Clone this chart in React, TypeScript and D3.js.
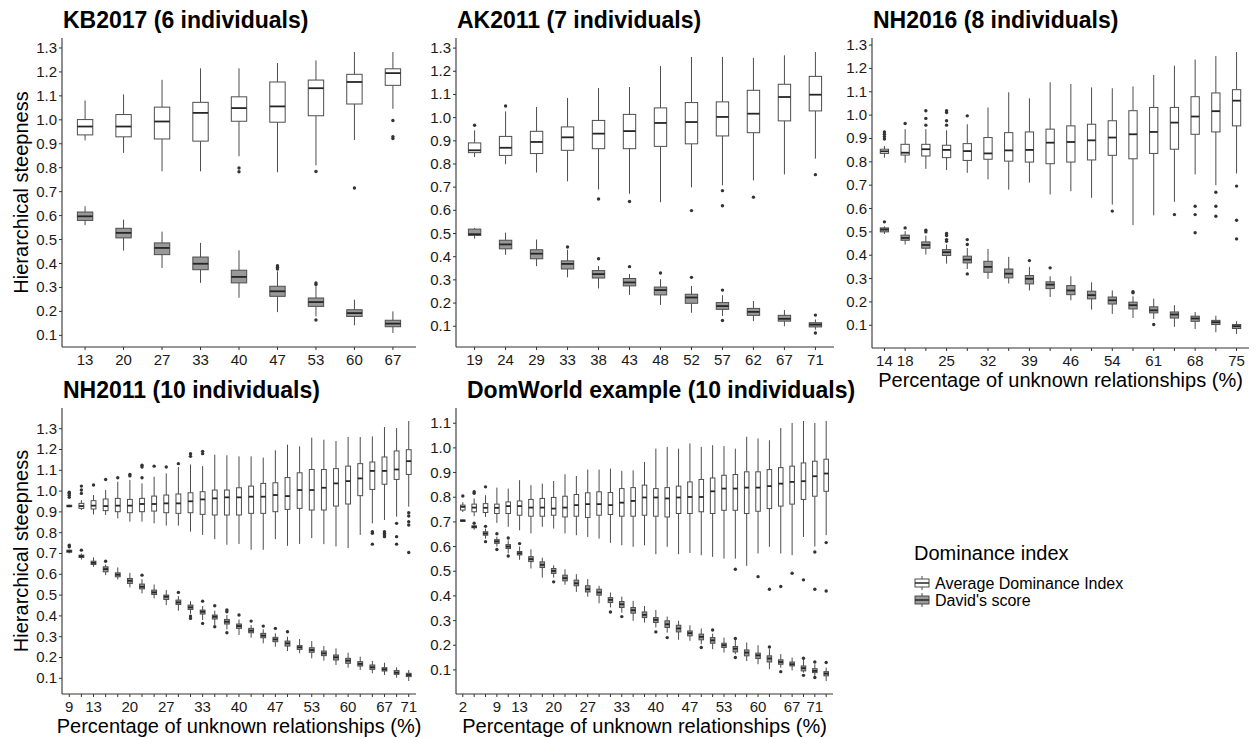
import * as d3 from "d3";

// [lo whisker, q1, median, q3, hi whisker]
type Box = [number, number, number, number, number];

const kbPct = ["13", "20", "27", "33", "40", "47", "53", "60", "67"];
const kbTicks = kbPct;
const kbAdi: Box[] = [
  [0.914, 0.937, 0.972, 1.001, 1.081],
  [0.862, 0.929, 0.972, 1.022, 1.106],
  [0.785, 0.92, 0.993, 1.053, 1.167],
  [0.785, 0.911, 1.029, 1.073, 1.215],
  [0.848, 0.994, 1.049, 1.096, 1.215],
  [0.781, 0.99, 1.056, 1.158, 1.237],
  [0.81, 1.017, 1.132, 1.166, 1.248],
  [0.916, 1.066, 1.158, 1.19, 1.283],
  [1.046, 1.144, 1.195, 1.213, 1.283],
];
const kbAdiOut = [[], [], [], [], [0.799, 0.783], [], [0.784], [0.715], [0.997, 0.93, 0.922]];
const kbDs: Box[] = [
  [0.56, 0.58, 0.597, 0.615, 0.639],
  [0.454, 0.507, 0.528, 0.547, 0.583],
  [0.381, 0.437, 0.465, 0.486, 0.533],
  [0.319, 0.374, 0.399, 0.427, 0.486],
  [0.257, 0.319, 0.344, 0.372, 0.455],
  [0.197, 0.263, 0.284, 0.305, 0.367],
  [0.179, 0.221, 0.239, 0.256, 0.305],
  [0.142, 0.179, 0.193, 0.207, 0.249],
  [0.11, 0.136, 0.149, 0.163, 0.2],
];
const kbDsOut = [[], [], [], [], [], [0.391, 0.384, 0.377], [0.319, 0.312, 0.164], [], []];

const akPct = ["19", "24", "29", "33", "38", "43", "48", "52", "57", "62", "67", "71"];
const akTicks = akPct;
const akAdi: Box[] = [
  [0.83, 0.849, 0.859, 0.891, 0.945],
  [0.799, 0.837, 0.87, 0.919, 1.027],
  [0.763, 0.845, 0.895, 0.941, 1.046],
  [0.725, 0.859, 0.915, 0.96, 1.085],
  [0.69, 0.866, 0.931, 0.988, 1.128],
  [0.672, 0.866, 0.942, 1.014, 1.132],
  [0.635, 0.876, 0.977, 1.042, 1.223],
  [0.699, 0.887, 0.981, 1.065, 1.262],
  [0.708, 0.921, 1.003, 1.068, 1.262],
  [0.729, 0.935, 1.017, 1.118, 1.258],
  [0.755, 0.986, 1.089, 1.144, 1.269],
  [0.823, 1.029, 1.099, 1.178, 1.283],
];
const akAdiOut = [[0.967], [1.05], [], [], [0.649], [0.638], [], [0.599], [0.685, 0.62], [0.657], [], [0.754]];
const akDs: Box[] = [
  [0.478, 0.492, 0.497, 0.519, 0.524],
  [0.408, 0.434, 0.453, 0.471, 0.504],
  [0.359, 0.391, 0.413, 0.43, 0.474],
  [0.311, 0.347, 0.369, 0.382, 0.43],
  [0.263, 0.308, 0.325, 0.34, 0.36],
  [0.235, 0.274, 0.289, 0.306, 0.325],
  [0.192, 0.235, 0.256, 0.269, 0.303],
  [0.158, 0.199, 0.224, 0.238, 0.274],
  [0.144, 0.173, 0.187, 0.202, 0.234],
  [0.122, 0.147, 0.162, 0.177, 0.209],
  [0.1, 0.122, 0.132, 0.147, 0.17],
  [0.085, 0.097, 0.107, 0.115, 0.129],
];
const akDsOut = [[], [], [], [0.442], [0.391], [0.357], [0.33], [0.311], [0.256, 0.125], [], [], [0.148, 0.071]];

const nh16Pct = ["14", "18", "21", "25", "29", "32", "36", "39", "43", "46", "50", "54", "57", "61", "64", "68", "71", "75"];
const nh16Ticks = ["14", "18", "25", "32", "39", "46", "54", "61", "68", "75"];
const nh16Adi: Box[] = [
  [0.818, 0.836, 0.845, 0.854, 0.868],
  [0.796, 0.829, 0.839, 0.875, 0.94],
  [0.77, 0.825, 0.854, 0.875, 0.94],
  [0.765, 0.818, 0.851, 0.871, 0.935],
  [0.753, 0.806, 0.846, 0.878, 0.961],
  [0.725, 0.811, 0.836, 0.904, 1.033],
  [0.681, 0.803, 0.849, 0.925, 1.098],
  [0.711, 0.799, 0.851, 0.928, 1.072],
  [0.66, 0.792, 0.882, 0.94, 1.141],
  [0.674, 0.799, 0.885, 0.954, 1.133],
  [0.646, 0.808, 0.892, 0.961, 1.119],
  [0.617, 0.828, 0.904, 0.976, 1.115],
  [0.529, 0.813, 0.918, 1.019, 1.123],
  [0.571, 0.836, 0.928, 1.033, 1.172],
  [0.629, 0.854, 0.968, 1.033, 1.212],
  [0.746, 0.918, 0.994, 1.079, 1.238],
  [0.7, 0.928, 1.017, 1.095, 1.253],
  [0.75, 0.954, 1.062, 1.109, 1.27],
];
const nh16AdiOut = [
  [0.928, 0.918, 0.908, 0.898], [0.964], [1.019, 0.986, 0.957], [1.019, 1.011, 0.976, 0.957], [0.997],
  [], [], [], [], [], [], [0.589], [], [], [0.574], [0.61, 0.574, 0.496], [0.67, 0.61, 0.567], [0.696, 0.55, 0.47],
];
const nh16Ds: Box[] = [
  [0.491, 0.5, 0.51, 0.517, 0.524],
  [0.446, 0.464, 0.474, 0.486, 0.503],
  [0.403, 0.43, 0.444, 0.457, 0.484],
  [0.364, 0.399, 0.413, 0.424, 0.446],
  [0.341, 0.367, 0.381, 0.396, 0.431],
  [0.299, 0.327, 0.35, 0.374, 0.427],
  [0.279, 0.303, 0.321, 0.341, 0.393],
  [0.249, 0.277, 0.299, 0.313, 0.35],
  [0.221, 0.257, 0.274, 0.286, 0.31],
  [0.207, 0.231, 0.249, 0.27, 0.31],
  [0.167, 0.213, 0.229, 0.246, 0.284],
  [0.149, 0.191, 0.207, 0.221, 0.249],
  [0.131, 0.17, 0.186, 0.199, 0.224],
  [0.127, 0.153, 0.164, 0.179, 0.214],
  [0.093, 0.131, 0.146, 0.157, 0.186],
  [0.084, 0.117, 0.129, 0.139, 0.157],
  [0.07, 0.103, 0.113, 0.121, 0.141],
  [0.063, 0.086, 0.096, 0.103, 0.117],
];
const nh16DsOut = [
  [0.543], [0.517], [0.507, 0.5], [0.493, 0.484, 0.467, 0.46], [0.467, 0.446, 0.32],
  [], [], [0.377], [0.346], [], [], [], [0.244, 0.239], [0.103], [], [], [], [],
];

const nh11Pct = ["9", "11", "13", "16", "18", "20", "22", "24", "27", "29", "31", "33", "36", "38", "40",
  "42", "44", "47", "49", "51", "53", "56", "58", "60", "62", "64", "67", "69", "71"];
const nh11Ticks = ["9", "13", "20", "27", "33", "40", "47", "53", "60", "67", "71"];
const nh11Adi: Box[] = [
  [0.922, 0.925, 0.928, 0.932, 0.935],
  [0.909, 0.917, 0.928, 0.941, 0.957],
  [0.888, 0.914, 0.93, 0.954, 0.981],
  [0.885, 0.906, 0.928, 0.962, 1.005],
  [0.869, 0.901, 0.93, 0.965, 1.045],
  [0.853, 0.896, 0.93, 0.96, 1.053],
  [0.853, 0.901, 0.938, 0.965, 1.037],
  [0.845, 0.904, 0.938, 0.976, 1.069],
  [0.834, 0.896, 0.941, 0.981, 1.085],
  [0.834, 0.893, 0.941, 0.986, 1.116],
  [0.805, 0.896, 0.951, 0.992, 1.128],
  [0.789, 0.888, 0.96, 0.997, 1.12],
  [0.769, 0.885, 0.965, 1.005, 1.175],
  [0.742, 0.885, 0.97, 1.005, 1.172],
  [0.746, 0.885, 0.97, 1.016, 1.167],
  [0.718, 0.893, 0.973, 1.024, 1.167],
  [0.718, 0.893, 0.973, 1.037, 1.161],
  [0.769, 0.901, 0.981, 1.04, 1.196],
  [0.737, 0.912, 0.976, 1.065, 1.223],
  [0.746, 0.917, 1.005, 1.088, 1.215],
  [0.774, 0.909, 1.005, 1.104, 1.257],
  [0.745, 0.909, 1.016, 1.104, 1.247],
  [0.734, 0.928, 1.037, 1.108, 1.241],
  [0.726, 0.938, 1.048, 1.12, 1.26],
  [0.789, 0.978, 1.061, 1.132, 1.26],
  [0.845, 1.008, 1.097, 1.14, 1.263],
  [0.861, 1.033, 1.097, 1.164, 1.308],
  [0.877, 1.056, 1.104, 1.193, 1.303],
  [0.925, 1.08, 1.144, 1.199, 1.337],
];
const nh11AdiOut = [
  [0.97, 0.98, 0.99, 0.995], [1.024, 1.005, 0.989], [1.029], [1.056], [1.064], [1.08, 1.073],
  [1.124, 1.116, 1.064], [1.12], [1.116], [1.132], [1.18, 1.167], [1.191, 1.18],
  [], [], [], [], [], [], [], [], [], [], [], [], [],
  [0.805, 0.797, 0.745], [0.805, 0.797, 0.789, 0.781], [0.845, 0.781, 0.745], [0.896, 0.88, 0.853, 0.837, 0.705],
];
const nh11Ds: Box[] = [
  [0.7, 0.706, 0.711, 0.716, 0.719],
  [0.671, 0.681, 0.687, 0.692, 0.7],
  [0.636, 0.647, 0.655, 0.663, 0.681],
  [0.596, 0.612, 0.625, 0.636, 0.647],
  [0.575, 0.588, 0.598, 0.607, 0.633],
  [0.537, 0.556, 0.569, 0.58, 0.607],
  [0.508, 0.53, 0.54, 0.553, 0.577],
  [0.484, 0.503, 0.513, 0.524, 0.551],
  [0.452, 0.479, 0.492, 0.5, 0.524],
  [0.425, 0.455, 0.465, 0.476, 0.495],
  [0.41, 0.431, 0.441, 0.452, 0.471],
  [0.38, 0.409, 0.42, 0.428, 0.447],
  [0.356, 0.385, 0.396, 0.404, 0.425],
  [0.335, 0.361, 0.372, 0.383, 0.404],
  [0.308, 0.34, 0.351, 0.361, 0.383],
  [0.295, 0.319, 0.329, 0.34, 0.356],
  [0.268, 0.295, 0.305, 0.316, 0.335],
  [0.252, 0.276, 0.287, 0.297, 0.316],
  [0.231, 0.255, 0.268, 0.279, 0.3],
  [0.22, 0.239, 0.249, 0.257, 0.289],
  [0.196, 0.225, 0.236, 0.247, 0.279],
  [0.185, 0.209, 0.22, 0.231, 0.255],
  [0.164, 0.188, 0.201, 0.212, 0.244],
  [0.151, 0.172, 0.185, 0.196, 0.223],
  [0.14, 0.159, 0.169, 0.18, 0.204],
  [0.124, 0.143, 0.153, 0.164, 0.183],
  [0.116, 0.135, 0.143, 0.151, 0.175],
  [0.103, 0.119, 0.127, 0.137, 0.153],
  [0.087, 0.108, 0.116, 0.124, 0.14],
];
const nh11DsOut = [
  [0.74, 0.732], [0.716], [], [0.663], [], [], [0.596], [], [], [0.513], [0.399, 0.388], [0.471, 0.364],
  [0.449, 0.348], [0.428, 0.42, 0.319], [0.404], [0.375], [0.351], [0.34], [0.324],
  [], [], [], [], [], [], [], [], [], [],
];

const dwPct = ["2", "4", "7", "9", "11", "13", "16", "18", "20", "22", "24", "27", "29", "31", "33", "36",
  "38", "40", "42", "44", "47", "49", "51", "53", "56", "58", "60", "62", "64", "67", "69", "71", "73"];
const dwTicks = ["2", "9", "13", "20", "27", "33", "40", "47", "53", "60", "67", "71"];
const dwAdi: Box[] = [
  [0.74, 0.748, 0.761, 0.768, 0.78],
  [0.723, 0.741, 0.758, 0.772, 0.795],
  [0.72, 0.738, 0.757, 0.774, 0.808],
  [0.696, 0.734, 0.757, 0.772, 0.839],
  [0.68, 0.734, 0.764, 0.781, 0.835],
  [0.666, 0.727, 0.764, 0.785, 0.869],
  [0.653, 0.723, 0.758, 0.791, 0.849],
  [0.68, 0.723, 0.758, 0.795, 0.855],
  [0.673, 0.727, 0.754, 0.799, 0.866],
  [0.653, 0.72, 0.758, 0.804, 0.893],
  [0.646, 0.723, 0.768, 0.811, 0.886],
  [0.639, 0.718, 0.772, 0.818, 0.912],
  [0.632, 0.727, 0.772, 0.822, 0.912],
  [0.615, 0.73, 0.768, 0.819, 0.916],
  [0.605, 0.723, 0.778, 0.835, 0.907],
  [0.599, 0.723, 0.785, 0.839, 0.909],
  [0.605, 0.727, 0.799, 0.849, 0.943],
  [0.569, 0.723, 0.799, 0.835, 0.997],
  [0.599, 0.72, 0.795, 0.839, 1.004],
  [0.569, 0.734, 0.799, 0.845, 0.997],
  [0.574, 0.734, 0.801, 0.862, 1.018],
  [0.565, 0.741, 0.801, 0.872, 1.004],
  [0.558, 0.734, 0.824, 0.878, 1.011],
  [0.551, 0.747, 0.835, 0.889, 1.007],
  [0.551, 0.747, 0.835, 0.892, 0.997],
  [0.522, 0.734, 0.839, 0.903, 1.045],
  [0.572, 0.743, 0.839, 0.903, 1.038],
  [0.599, 0.754, 0.845, 0.912, 1.031],
  [0.572, 0.764, 0.855, 0.92, 1.081],
  [0.565, 0.772, 0.862, 0.926, 1.101],
  [0.639, 0.791, 0.865, 0.939, 1.109],
  [0.6, 0.804, 0.885, 0.946, 1.101],
  [0.646, 0.824, 0.896, 0.954, 1.109],
];
const dwAdiOut = [
  [0.805], [0.822, 0.816], [0.842],
  [], [], [], [], [], [], [], [], [], [], [], [], [], [], [], [], [], [], [], [], [],
  [0.508], [], [0.478], [0.427], [0.438], [0.492], [0.465], [0.578, 0.427], [0.616, 0.42],
];
const dwDs: Box[] = [
  [0.7, 0.702, 0.705, 0.708, 0.71],
  [0.668, 0.676, 0.68, 0.684, 0.69],
  [0.632, 0.646, 0.653, 0.66, 0.673],
  [0.6, 0.613, 0.621, 0.628, 0.64],
  [0.572, 0.592, 0.6, 0.608, 0.625],
  [0.546, 0.566, 0.573, 0.58, 0.6],
  [0.511, 0.539, 0.549, 0.559, 0.589],
  [0.474, 0.515, 0.526, 0.538, 0.555],
  [0.474, 0.491, 0.501, 0.511, 0.524],
  [0.445, 0.461, 0.472, 0.484, 0.508],
  [0.416, 0.441, 0.451, 0.464, 0.488],
  [0.397, 0.416, 0.427, 0.441, 0.468],
  [0.37, 0.403, 0.414, 0.427, 0.441],
  [0.353, 0.373, 0.384, 0.393, 0.414],
  [0.332, 0.353, 0.366, 0.377, 0.397],
  [0.299, 0.33, 0.342, 0.353, 0.38],
  [0.292, 0.312, 0.323, 0.335, 0.359],
  [0.272, 0.292, 0.303, 0.312, 0.343],
  [0.251, 0.272, 0.285, 0.299, 0.316],
  [0.222, 0.254, 0.268, 0.281, 0.299],
  [0.218, 0.238, 0.249, 0.258, 0.281],
  [0.204, 0.222, 0.234, 0.245, 0.268],
  [0.184, 0.208, 0.22, 0.231, 0.247],
  [0.17, 0.191, 0.2, 0.208, 0.231],
  [0.164, 0.173, 0.186, 0.195, 0.224],
  [0.136, 0.157, 0.17, 0.181, 0.211],
  [0.123, 0.146, 0.159, 0.168, 0.2],
  [0.103, 0.132, 0.146, 0.157, 0.184],
  [0.109, 0.123, 0.132, 0.141, 0.164],
  [0.098, 0.116, 0.123, 0.132, 0.15],
  [0.089, 0.096, 0.107, 0.116, 0.14],
  [0.076, 0.089, 0.096, 0.105, 0.123],
  [0.055, 0.076, 0.085, 0.093, 0.109],
];
const dwDsOut = [
  [], [0.695], [0.682, 0.62], [0.652, 0.588], [0.635, 0.562], [0.612], [], [], [0.457], [], [], [], [],
  [0.335], [0.316], [], [], [0.254], [0.231], [], [], [0.191], [0.262], [], [0.227, 0.15], [], [],
  [0.193], [0.093], [], [0.147, 0.078], [0.132, 0.069], [0.13],
];

const legendLabels = ["Average Dominance Index", "David's score"];

const FONT = "'Liberation Sans', Arial, Helvetica, sans-serif";
const INK = "#333333";
const FILLS = ["#ffffff", "#999999"];

const panels = [
  { title: "KB2017 (6 individuals)", pct: kbPct, ticks: kbTicks, adi: kbAdi, adiOut: kbAdiOut, ds: kbDs, dsOut: kbDsOut,
    frame: { left: 62, right: 416, top: 38, bottom: 347 }, titleX: 63, yTitle: true, xTitle: false },
  { title: "AK2011 (7 individuals)", pct: akPct, ticks: akTicks, adi: akAdi, adiOut: akAdiOut, ds: akDs, dsOut: akDsOut,
    frame: { left: 456, right: 834, top: 38, bottom: 347 }, titleX: 457, yTitle: false, xTitle: false },
  { title: "NH2016 (8 individuals)", pct: nh16Pct, ticks: nh16Ticks, adi: nh16Adi, adiOut: nh16AdiOut, ds: nh16Ds, dsOut: nh16DsOut,
    frame: { left: 872, right: 1249, top: 38, bottom: 348 }, titleX: 873, yTitle: false, xTitle: true },
  { title: "NH2011 (10 individuals)", pct: nh11Pct, ticks: nh11Ticks, adi: nh11Adi, adiOut: nh11AdiOut, ds: nh11Ds, dsOut: nh11DsOut,
    frame: { left: 62, right: 416, top: 408, bottom: 694 }, titleX: 63, yTitle: true, xTitle: true },
  { title: "DomWorld example (10 individuals)", pct: dwPct, ticks: dwTicks, adi: dwAdi, adiOut: dwAdiOut, ds: dwDs, dsOut: dwDsOut,
    frame: { left: 456, right: 833, top: 408, bottom: 694 }, titleX: 467, yTitle: false, xTitle: true },
];

function BoxSeries({ boxes, outs, x, y, pct, w, fill }) {
  return (
    <g>
      {boxes.map((b: Box, i: number) => {
        const cx = x(pct[i]);
        const [lo, q1, med, q3, hi] = b;
        return (
          <g key={i}>
            <line x1={cx} x2={cx} y1={y(hi)} y2={y(q3)} stroke="#4d4d4d" strokeWidth={1} />
            <line x1={cx} x2={cx} y1={y(q1)} y2={y(lo)} stroke="#4d4d4d" strokeWidth={1} />
            <rect x={cx - w / 2} y={y(q3)} width={w} height={Math.max(1, y(q1) - y(q3))}
              fill={fill} stroke="#4d4d4d" strokeWidth={1} />
            <line x1={cx - w / 2} x2={cx + w / 2} y1={y(med)} y2={y(med)} stroke="#262626" strokeWidth={1.8} />
            {outs[i].map((o: number, j: number) => (
              <circle key={j} cx={cx} cy={y(o)} r={1.7} fill={INK} />
            ))}
          </g>
        );
      })}
    </g>
  );
}

function Panel({ p }) {
  const { left, right, top, bottom } = p.frame;
  const x = d3.scalePoint<string>().domain(p.pct).range([left, right]).padding(0.6);
  const all = [...p.adi.flat(), ...p.ds.flat(), ...p.adiOut.flat(), ...p.dsOut.flat()];
  const [mn, mx] = d3.extent(all) as [number, number];
  const pad = (mx - mn) * 0.05;
  const y = d3.scaleLinear().domain([mn - pad, mx + pad]).range([bottom, top]);
  const yTicks = y.ticks(12);
  const fmt = d3.format(".1f");
  const w = x.step() * 0.4;
  return (
    <g fontFamily={FONT}>
      <text x={p.titleX} y={top - 10} fontSize={23} fontWeight="bold" fill="#000">{p.title}</text>
      <BoxSeries boxes={p.adi} outs={p.adiOut} x={x} y={y} pct={p.pct} w={w} fill={FILLS[0]} />
      <BoxSeries boxes={p.ds} outs={p.dsOut} x={x} y={y} pct={p.pct} w={w} fill={FILLS[1]} />
      <line x1={left} x2={left} y1={top} y2={bottom} stroke={INK} strokeWidth={1.1} />
      <line x1={left} x2={right} y1={bottom} y2={bottom} stroke={INK} strokeWidth={1.1} />
      {yTicks.map((t) => (
        <g key={t}>
          <line x1={left - 3} x2={left} y1={y(t)} y2={y(t)} stroke={INK} />
          <text x={left - 5} y={y(t) + 5} textAnchor="end" fontSize={15} fill="#1a1a1a">{fmt(t)}</text>
        </g>
      ))}
      {p.pct.map((c: string) => (
        <g key={c}>
          <line x1={x(c)} x2={x(c)} y1={bottom} y2={bottom + 3} stroke={INK} />
          {p.ticks.includes(c) && (
            <text x={x(c)} y={bottom + 18} textAnchor="middle" fontSize={15} fill="#1a1a1a">{c}</text>
          )}
        </g>
      ))}
      {p.yTitle && (
        <text transform={`translate(21, ${(top + bottom) / 2}) rotate(-90)`} textAnchor="middle"
          dominantBaseline="central" fontSize={20} fill="#000">Hierarchical steepness</text>
      )}
      {p.xTitle && (
        <text x={(left + right) / 2} y={bottom + 39} textAnchor="middle" fontSize={20} fill="#000">
          Percentage of unknown relationships (%)
        </text>
      )}
    </g>
  );
}

function Legend() {
  const lx = 914;
  const ly = 560;
  return (
    <g fontFamily={FONT}>
      <text x={lx} y={ly} fontSize={20} fill="#000">Dominance index</text>
      {legendLabels.map((lab, i) => {
        const cy = ly + 23 + i * 17;
        return (
          <g key={lab}>
            <line x1={lx + 8} x2={lx + 8} y1={cy - 7} y2={cy + 7} stroke="#4d4d4d" />
            <rect x={lx + 1} y={cy - 4} width={14} height={8} fill={FILLS[i]} stroke="#4d4d4d" />
            <line x1={lx + 1} x2={lx + 15} y1={cy} y2={cy} stroke="#262626" strokeWidth={1.5} />
            <text x={lx + 21} y={cy + 5.5} fontSize={16} fill="#000">{lab}</text>
          </g>
        );
      })}
    </g>
  );
}

export default function App() {
  return (
    <div style={{ position: "absolute", left: 0, top: 0 }}>
      <svg width={1256} height={738} viewBox="0 0 1256 738" style={{ display: "block", background: "#fff" }}>
        {panels.map((p) => (
          <Panel key={p.title} p={p} />
        ))}
        <Legend />
      </svg>
    </div>
  );
}
